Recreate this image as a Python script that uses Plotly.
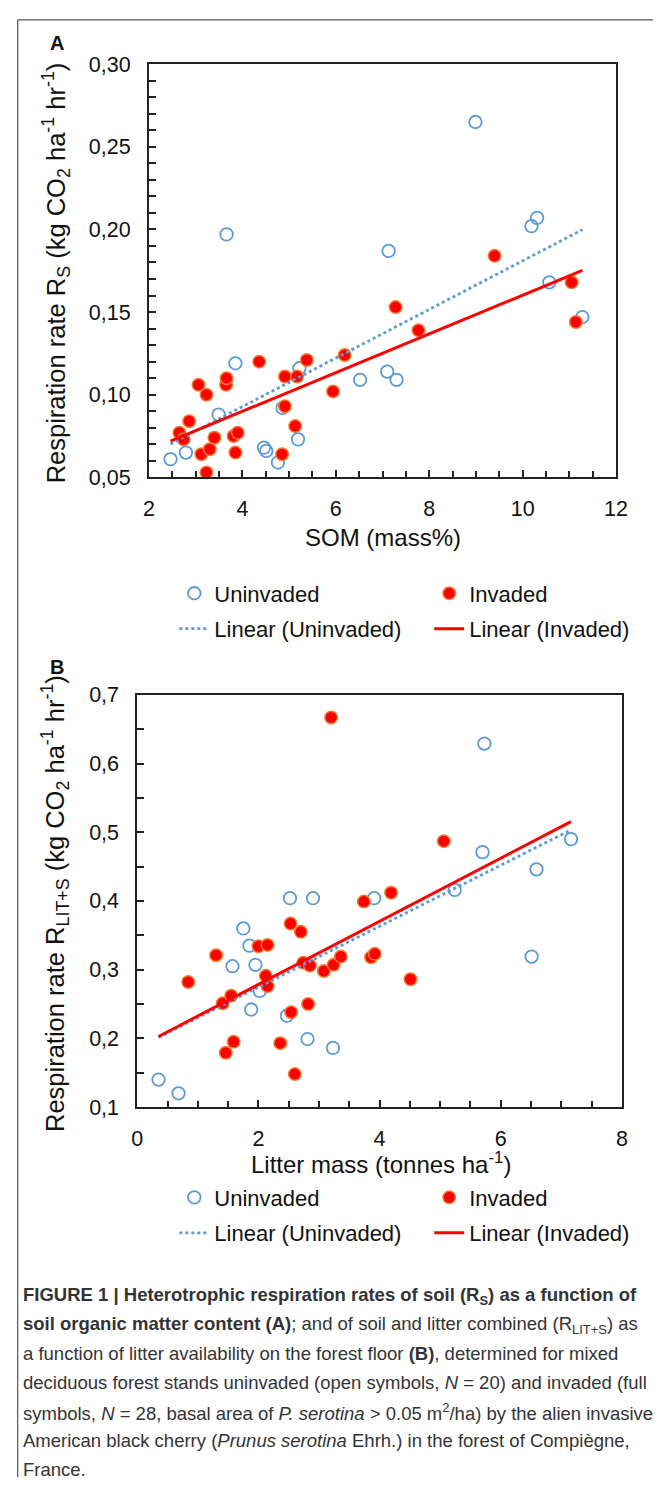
import numpy as np
import plotly.graph_objects as go

W, H = 665, 1490

# ---------------- Data ----------------
# Panel A: SOM (mass%) vs soil respiration R_S
somA_unin = [2.46, 2.79, 3.66, 3.49, 3.85, 4.46, 4.51, 4.76, 4.86, 5.22,
             5.19, 6.52, 7.13, 7.10, 7.30, 8.99, 10.19, 10.31, 10.57, 11.28]
rsA_unin = [0.061, 0.065, 0.197, 0.088, 0.119, 0.068, 0.066, 0.059, 0.092, 0.116,
            0.073, 0.109, 0.187, 0.114, 0.109, 0.265, 0.202, 0.207, 0.168, 0.147]
somA_inv = [2.65, 2.74, 2.86, 3.06, 3.23, 3.12, 3.23, 3.30, 3.40, 3.65,
            3.66, 3.81, 3.90, 3.85, 4.36, 4.91, 4.91, 4.85, 5.17, 5.13,
            5.38, 5.94, 6.19, 7.28, 7.77, 9.40, 11.05, 11.14]
rsA_inv = [0.077, 0.073, 0.084, 0.106, 0.100, 0.064, 0.053, 0.067, 0.074, 0.106,
           0.110, 0.075, 0.077, 0.065, 0.120, 0.111, 0.093, 0.064, 0.111, 0.081,
           0.121, 0.102, 0.124, 0.153, 0.139, 0.184, 0.168, 0.144]

# Panel B: litter mass (t/ha) vs soil+litter respiration R_LIT+S
litB_unin = [0.35, 0.68, 1.75, 1.85, 1.57, 1.95, 2.02, 1.88, 2.47, 2.52,
             2.90, 2.81, 3.23, 3.91, 5.73, 5.70, 5.24, 6.59, 6.51, 7.16]
rB_unin = [0.140, 0.120, 0.360, 0.335, 0.305, 0.307, 0.269, 0.242, 0.233, 0.404,
           0.404, 0.199, 0.186, 0.404, 0.629, 0.471, 0.416, 0.446, 0.319, 0.490]
litB_inv = [3.20, 0.84, 1.30, 1.41, 1.55, 1.46, 1.59, 2.00, 2.15, 2.12,
            2.15, 2.36, 2.53, 2.70, 2.74, 2.85, 2.54, 2.82, 2.60, 3.08,
            3.24, 3.36, 3.74, 3.86, 3.92, 4.19, 4.51, 5.06]
rB_inv = [0.667, 0.282, 0.321, 0.251, 0.262, 0.179, 0.195, 0.334, 0.336, 0.291,
          0.276, 0.193, 0.367, 0.355, 0.310, 0.306, 0.238, 0.250, 0.148, 0.298,
          0.307, 0.319, 0.399, 0.318, 0.323, 0.412, 0.286, 0.487]

names = ["Uninvaded", "Invaded", "Linear (Uninvaded)", "Linear (Invaded)"]

# ---------------- Styling ----------------
BLUE = "#5B9BD5"
RED = "#FF0000"
ORANGE = "#ED7D31"
FONT = "Liberation Sans, Arial, sans-serif"
AX = "#222222"


def px_x(p):
    return p / W


def px_y(p):
    return 1 - p / H


def fit_line(xs, ys, xr):
    k, b = np.polyfit(np.array(xs), np.array(ys), 1)
    xr = np.array(xr)
    return xr, k * xr + b


fig = go.Figure()

panels = [
    dict(xa="x", ya="y", xu=somA_unin, yu=rsA_unin, xi=somA_inv, yi=rsA_inv,
         legs=["legend", "legend2", "legend3", "legend4"]),
    dict(xa="x2", ya="y2", xu=litB_unin, yu=rB_unin, xi=litB_inv, yi=rB_inv,
         legs=["legend5", "legend6", "legend7", "legend8"]),
]

for p in panels:
    allx = p["xu"] + p["xi"]
    xr = [min(allx), max(allx)]
    fig.add_trace(go.Scatter(
        x=p["xu"], y=p["yu"], mode="markers", name=names[0],
        marker=dict(symbol="circle-open", size=12.5, color=BLUE, line=dict(width=1.8, color=BLUE)),
        xaxis=p["xa"], yaxis=p["ya"], legend=p["legs"][0], cliponaxis=False))
    fig.add_trace(go.Scatter(
        x=p["xi"], y=p["yi"], mode="markers", name=names[1],
        marker=dict(symbol="circle", size=12.5, color=RED, line=dict(width=1.5, color=ORANGE)),
        xaxis=p["xa"], yaxis=p["ya"], legend=p["legs"][1], cliponaxis=False))
    lx, ly = fit_line(p["xu"], p["yu"], xr)
    fig.add_trace(go.Scatter(
        x=lx, y=ly, mode="lines", name=names[2],
        line=dict(color=BLUE, width=2.8, dash="dot"),
        xaxis=p["xa"], yaxis=p["ya"], legend=p["legs"][2]))
    lx, ly = fit_line(p["xi"], p["yi"], xr)
    fig.add_trace(go.Scatter(
        x=lx, y=ly, mode="lines", name=names[3],
        line=dict(color=RED, width=3),
        xaxis=p["xa"], yaxis=p["ya"], legend=p["legs"][3]))

tickfont = dict(family=FONT, size=21.5, color="#111")
common_axis = dict(showline=True, mirror=True, linecolor=AX, linewidth=2,
                   showgrid=False, zeroline=False, ticks="inside", tickcolor=AX,
                   tickwidth=1.5, tickfont=tickfont)

fig.update_layout(
    width=W, height=H,
    margin=dict(l=0, r=0, t=0, b=0),
    paper_bgcolor="white", plot_bgcolor="white",
    separators=",.",
    font=dict(family=FONT, color="#111"),
    showlegend=True,
    xaxis=dict(domain=[px_x(147), px_x(627)], anchor="y", range=[2, 12], dtick=2, tick0=2,
               ticklen=7, minor=dict(dtick=0.5, ticklen=6, ticks="inside", tickcolor=AX, tickwidth=1.5),
               ticklabelstandoff=11, **common_axis),
    yaxis=dict(domain=[px_y(474), px_y(54)], anchor="x", range=[0.05, 0.30], dtick=0.05,
               tick0=0.05, tickformat=".2f", ticklen=7,
               minor=dict(dtick=0.01, ticklen=7, ticks="inside", tickcolor=AX, tickwidth=1.5),
               ticklabelstandoff=12, **common_axis),
    xaxis2=dict(domain=[px_x(135), px_x(633)], anchor="y2", range=[0, 8], dtick=2, tick0=0,
                ticklen=7, minor=dict(dtick=0.5, ticklen=6, ticks="inside", tickcolor=AX, tickwidth=1.5),
                ticklabelstandoff=11, **common_axis),
    yaxis2=dict(domain=[px_y(1114), px_y(695)], anchor="x2", range=[0.1, 0.7], dtick=0.1,
                tick0=0.1, tickformat=".1f", ticklen=7,
                minor=dict(dtick=0.05, ticklen=7, ticks="inside", tickcolor=AX, tickwidth=1.5),
                ticklabelstandoff=12, **common_axis),
)

# One legend per entry, arranged in a 2x2 grid under each panel
leg_common = dict(orientation="h", xanchor="left", yanchor="middle",
                  font=dict(family=FONT, size=22, color="#111"),
                  bgcolor="rgba(0,0,0,0)", borderwidth=0)
col_x = [173, 435]
rows_y = [[592, 628], [1206, 1242]]
legend_layout = {}
for pi, p in enumerate(panels):
    for k, lname in enumerate(p["legs"]):
        legend_layout[lname] = dict(x=px_x(col_x[k % 2]), y=px_y(rows_y[pi][k // 2]), **leg_common)
fig.update_layout(**legend_layout)

annotations = []
letter_font = dict(family=FONT, size=20, color="#111")
for letter, (lx, ly) in [("A", (52, 33)), ("B", (52, 667))]:
    annotations.append(dict(text="<b>%s</b>" % letter, x=px_x(lx), y=px_y(ly), xref="paper", yref="paper",
                            xanchor="center", yanchor="middle", showarrow=False, font=letter_font))
# Axis titles
title_font = dict(family=FONT, size=25.5, color="#111")
annotations.append(dict(
    text="Respiration rate R<sub>S</sub> (kg CO<sub>2</sub> ha<sup>-1</sup> hr<sup>-1</sup>)",
    x=px_x(51), y=px_y(266), xref="paper", yref="paper", textangle=-90,
    xanchor="center", yanchor="middle", showarrow=False, font=title_font))
annotations.append(dict(
    text="Respiration rate R<sub>LIT+S</sub> (kg CO<sub>2</sub> ha<sup>-1</sup> hr<sup>-1</sup>)",
    x=px_x(51), y=px_y(907), xref="paper", yref="paper", textangle=-90,
    xanchor="center", yanchor="middle", showarrow=False, font=title_font))
xt_font = dict(family=FONT, size=24, color="#111")
annotations.append(dict(text="SOM (mass%)", x=px_x(387), y=px_y(535), xref="paper", yref="paper",
                        xanchor="center", yanchor="middle", showarrow=False, font=xt_font))
annotations.append(dict(text="Litter mass (tonnes ha<sup>-1</sup>)", x=px_x(385), y=px_y(1171),
                        xref="paper", yref="paper", xanchor="center", yanchor="middle",
                        showarrow=False, font=xt_font))

# Caption
cap_lines = [
    "<b>FIGURE 1 | Heterotrophic respiration rates of soil (R<sub>S</sub>) as a function of</b>",
    "<b>soil organic matter content (A)</b>; and of soil and litter combined (R<sub>LIT+S</sub>) as",
    "a function of litter availability on the forest floor <b>(B)</b>, determined for mixed",
    "deciduous forest stands uninvaded (open symbols, <i>N</i> = 20) and invaded (full",
    "symbols, <i>N</i> = 28, basal area of <i>P. serotina</i> > 0.05 m<sup>2</sup>/ha) by the alien invasive",
    "American black cherry (<i>Prunus serotina</i> Ehrh.) in the forest of Compiègne,",
    "France.",
]
for i, line in enumerate(cap_lines):
    annotations.append(dict(text=line, x=px_x(15), y=px_y(1306 + 29.4 * i), xref="paper", yref="paper",
                            xanchor="left", yanchor="middle", showarrow=False, align="left",
                            font=dict(family=FONT, size=18.5, color="#333")))
fig.update_layout(annotations=annotations)

# Outer frame (top and left edges)
fig.update_layout(shapes=[
    dict(type="line", xref="paper", yref="paper", x0=px_x(12), x1=1, y0=px_y(9), y1=px_y(9),
         line=dict(color="#555", width=1.2)),
    dict(type="line", xref="paper", yref="paper", x0=px_x(12), x1=px_x(12), y0=px_y(9), y1=0,
         line=dict(color="#555", width=1.2)),
])

fig.write_html("out.html")
